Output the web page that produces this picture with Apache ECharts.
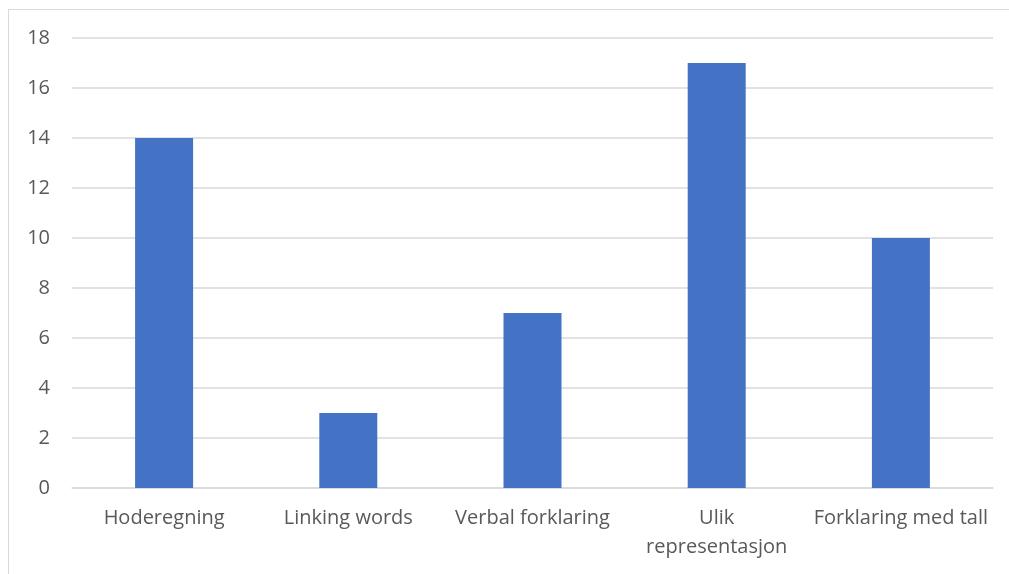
<!DOCTYPE html>
<html>
<head>
    <meta charset="UTF-8">
    <script src="https://cdn.jsdelivr.net/npm/echarts@6/dist/echarts.min.js"></script>
    <style>
    html, body { margin: 0; padding: 0; background: #fff; overflow: hidden; }
    .frame {
        position: absolute;
        left: 8px;
        top: 9px;
        width: 1100px;
        height: 700px;
        border: 1.5px solid #d9d9d9;
    }
    #chart {
        position: absolute;
        left: 0;
        top: 0;
        width: 1009px;
        height: 574px;
    }
    </style>
</head>
<body>
    <div class="frame"></div>
    <div id="chart"></div>
    <script type="text/javascript">
    var categories = ['Hoderegning', 'Linking words', 'Verbal forklaring', 'Ulik\nrepresentasjon', 'Forklaring med tall'];
    var counts = [14, 3, 7, 17, 10];
    var yTicks = [0, 2, 4, 6, 8, 10, 12, 14, 16, 18];

    var chart = echarts.init(document.getElementById('chart'));
    var textColor = '#595959';
    var option = {
        animation: false,
        grid: { left: 72, right: 16, top: 38, bottom: 86 },
        xAxis: {
            type: 'category',
            data: categories,
            axisLine: { lineStyle: { color: '#d9d9d9', width: 1.5 } },
            axisTick: { show: false },
            axisLabel: {
                color: textColor,
                fontFamily: 'Open Sans',
                fontSize: 20,
                lineHeight: 29,
                margin: 16,
                interval: 0
            }
        },
        yAxis: {
            type: 'value',
            min: yTicks[0],
            max: yTicks[yTicks.length - 1],
            interval: 2,
            axisLine: { show: false },
            axisTick: { show: false },
            splitLine: { lineStyle: { color: '#d9d9d9', width: 1.5 } },
            axisLabel: {
                color: textColor,
                fontFamily: 'Open Sans',
                fontSize: 20,
                margin: 22
            }
        },
        series: [{
            type: 'bar',
            data: counts,
            barWidth: 58,
            itemStyle: { color: '#4472c4' }
        }]
    };
    chart.setOption(option);
    </script>
</body>
</html>
